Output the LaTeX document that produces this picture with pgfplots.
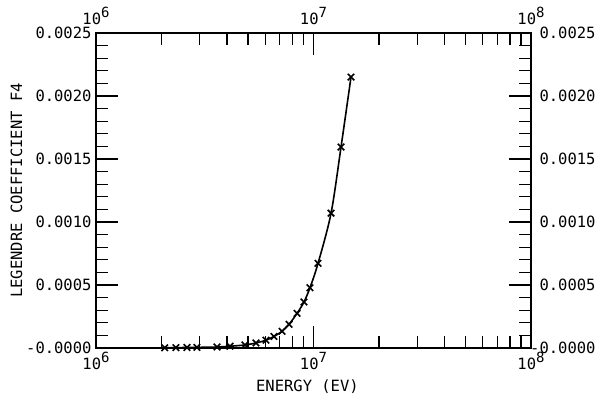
\documentclass[border=0pt]{standalone}
\usepackage{fontspec}
\setmainfont{DejaVu Sans Mono}
\usepackage{pgfplots}
\pgfplotsset{compat=1.18}
\newcommand{\tf}{\fontsize{15.5bp}{15.5bp}\selectfont}
\newcommand{\ex}[1]{10\raisebox{0.45em}{\fontsize{14bp}{14bp}\selectfont #1}}
\begin{document}
\begin{tikzpicture}
\path[use as bounding box] (0,0) rectangle (606bp,403bp);
\begin{axis}[
  at={(96bp,55bp)}, anchor=south west,
  width=435bp, height=315bp, scale only axis,
  xmode=log, xmin=1e6, xmax=1e8, ymin=0, ymax=0.0025,
  axis line style={line width=1.5bp},
  tick style={line width=1.3bp, black},
  tick align=inside,
  major tick length=22bp, minor tick length=12bp,
  xtick={1e6,1e7,1e8},
  xticklabels={{\ex{6}},{\ex{7}},{\ex{8}}},
  minor xtick={2e6,3e6,4e6,5e6,6e6,7e6,8e6,9e6,2e7,3e7,4e7,5e7,6e7,7e7,8e7,9e7},
  ytick={0,0.0005,0.0010,0.0015,0.0020,0.0025},
  yticklabels={{\llap{-}0.0000},{0.0005},{0.0010},{0.0015},{0.0020},{0.0025}},
  minor ytick={0.0001,0.0002,0.0003,0.0004,0.0006,0.0007,0.0008,0.0009,0.0011,0.0012,0.0013,0.0014,0.0016,0.0017,0.0018,0.0019,0.0021,0.0022,0.0023,0.0024},
  xtick pos=both, ytick pos=both,
  xticklabel pos=lower, yticklabel pos=left,
  every tick label/.append style={font=\tf},
  xticklabel style={yshift=-1bp},
  yticklabel style={xshift=-1bp},
  xlabel={ENERGY (EV)},
  ylabel={LEGENDRE COEFFICIENT F4},
  label style={font=\tf},
  xlabel style={at={(axis description cs:0.486,-0.124)}, anchor=center},
  ylabel style={at={(axis description cs:-0.183,0.5)}, anchor=center},
  scaled y ticks=false,
]
\addplot[black, line width=1.6bp, smooth, mark=x, mark size=4.6bp, mark options={line width=1.6bp}] coordinates {
(2.07e6,0.000002)
(2.33e6,0.000003)
(2.62e6,0.000004)
(2.91e6,0.000005)
(3.60e6,0.000008)
(4.13e6,0.000014)
(4.84e6,0.000024)
(5.44e6,0.000040)
(6.05e6,0.000062)
(6.58e6,0.000092)
(7.17e6,0.000133)
(7.72e6,0.000188)
(8.40e6,0.000275)
(9.04e6,0.000365)
(9.63e6,0.000478)
(1.049e7,0.000672)
(1.204e7,0.00107)
(1.338e7,0.001595)
(1.487e7,0.00215)
};
\end{axis}
\begin{axis}[
  at={(96bp,55bp)}, anchor=south west,
  width=435bp, height=315bp, scale only axis,
  xmode=log, xmin=1e6, xmax=1e8, ymin=0, ymax=0.0025,
  axis line style={draw=none},
  major tick length=0pt, minor tick length=0pt,
  xtick={1e6,1e7,1e8},
  xticklabels={{\ex{6}},{\ex{7}},{\ex{8}}},
  minor xtick={},
  ytick={0,0.0005,0.0010,0.0015,0.0020,0.0025},
  yticklabels={{\llap{-}0.0000},{0.0005},{0.0010},{0.0015},{0.0020},{0.0025}},
  xticklabel pos=upper, yticklabel pos=right,
  every tick label/.append style={font=\tf},
  xticklabel style={yshift=5bp},
  yticklabel style={xshift=5bp},
  scaled y ticks=false,
]
\end{axis}
\end{tikzpicture}
\end{document}
